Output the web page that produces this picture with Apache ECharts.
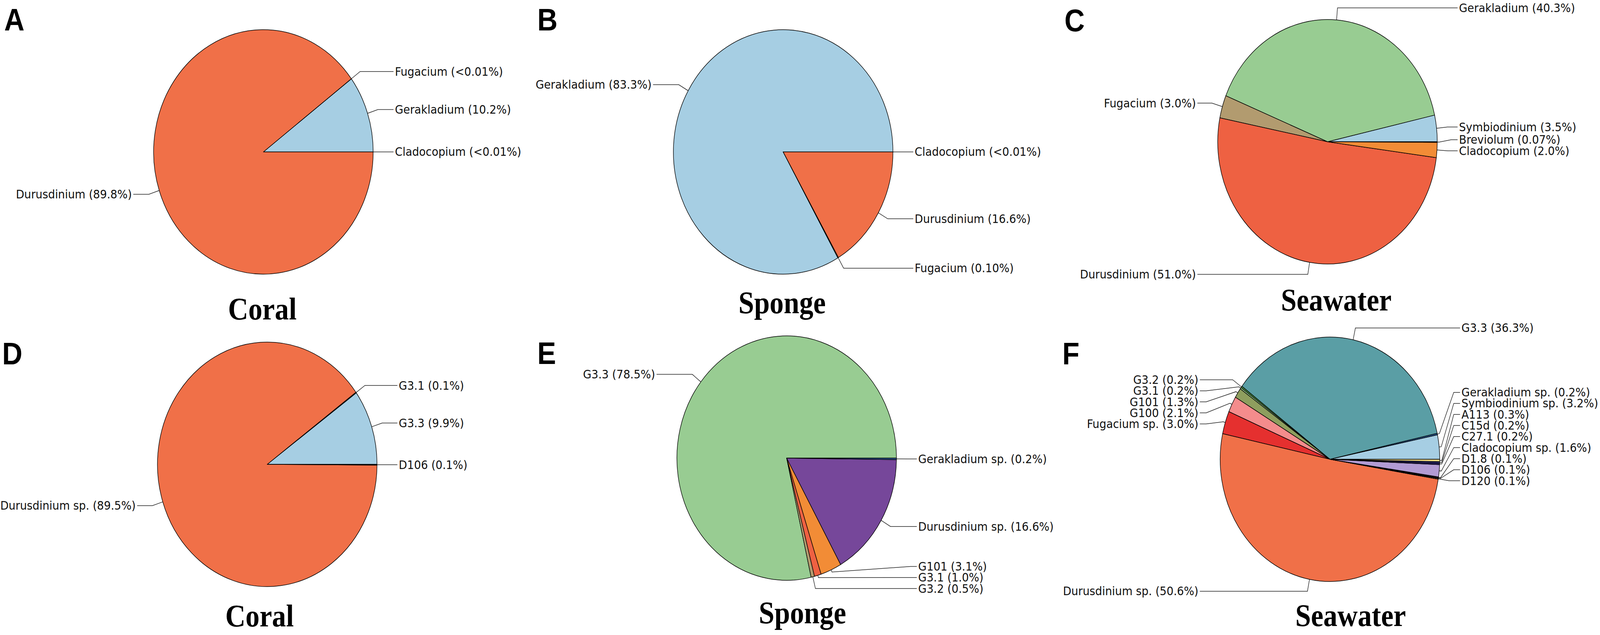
<!DOCTYPE html>
<html><head><meta charset="utf-8">
<script src="https://cdn.jsdelivr.net/npm/echarts@6/dist/echarts.min.js"></script>
<style>html,body{margin:0;padding:0;background:#fff;overflow:hidden}#c{width:4562px;height:1626px}</style>
</head><body><div id="c"></div>
<script>
// ================= DATA =================
// A: Coral (genus)
const coralGenusNames = ['Cladocopium', 'Gerakladium', 'Fugacium', 'Durusdinium'];
const coralGenusValues = [0.005, 10.2, 0.005, 89.8];
const coralGenusPct = ['<0.01%', '10.2%', '<0.01%', '89.8%'];
// B: Sponge (genus)
const spongeGenusNames = ['Cladocopium', 'Gerakladium', 'Fugacium', 'Durusdinium'];
const spongeGenusValues = [0.005, 83.3, 0.10, 16.6];
const spongeGenusPct = ['<0.01%', '83.3%', '0.10%', '16.6%'];
// C: Seawater (genus)
const seawaterGenusNames = ['Symbiodinium', 'Gerakladium', 'Fugacium', 'Durusdinium', 'Cladocopium', 'Breviolum'];
const seawaterGenusValues = [3.5, 40.3, 3.0, 51.0, 2.0, 0.07];
const seawaterGenusPct = ['3.5%', '40.3%', '3.0%', '51.0%', '2.0%', '0.07%'];
// D: Coral (type)
const coralTypeNames = ['G3.3', 'G3.1', 'Durusdinium sp.', 'D106'];
const coralTypeValues = [9.9, 0.1, 89.5, 0.1];
const coralTypePct = ['9.9%', '0.1%', '89.5%', '0.1%'];
// E: Sponge (type)
const spongeTypeNames = ['G3.3', 'G3.2', 'G3.1', 'G101', 'Durusdinium sp.', 'Gerakladium sp.'];
const spongeTypeValues = [78.5, 0.5, 1.0, 3.1, 16.6, 0.2];
const spongeTypePct = ['78.5%', '0.5%', '1.0%', '3.1%', '16.6%', '0.2%'];
// F: Seawater (type)
const seawaterTypeNames = ['Symbiodinium sp.', 'Gerakladium sp.', 'G3.3', 'G3.2', 'G3.1', 'G101', 'G100', 'Fugacium sp.',
  'Durusdinium sp.', 'D120', 'D106', 'D1.8', 'Cladocopium sp.', 'C27.1', 'C15d', 'A113'];
const seawaterTypeValues = [3.2, 0.2, 36.3, 0.2, 0.2, 1.3, 2.1, 3.0, 50.6, 0.1, 0.1, 0.1, 1.6, 0.2, 0.2, 0.3];
const seawaterTypePct = ['3.2%', '0.2%', '36.3%', '0.2%', '0.2%', '1.3%', '2.1%', '3.0%', '50.6%', '0.1%', '0.1%', '0.1%', '1.6%', '0.2%', '0.2%', '0.3%'];

const panelLetters = ['A', 'B', 'C', 'D', 'E', 'F'];
const panelTitles = ['Coral', 'Sponge', 'Seawater', 'Coral', 'Sponge', 'Seawater'];

// ================= STYLE / LAYOUT =================
const FIG_W = 4562, FIG_H = 1626;
// the window may be narrower than the figure: fit the whole figure into it
(function fit() {
  const sx = Math.min(1, window.innerWidth / FIG_W), sy = Math.min(1, window.innerHeight / FIG_H);
  if (sx < 1 || sy < 1) {
    const el = document.getElementById('c');
    el.style.transformOrigin = '0 0';
    el.style.transform = 'scale(' + sx + ',' + sy + ')';
  }
})();

const C_ORANGE_RED = '#F07048', C_LBLUE = '#A6CEE3', C_GREEN = '#98CC92', C_TAN = '#B29B6F',
      C_RED2 = '#EE6142', C_ORANGE = '#F28C36', C_PURPLE = '#76479A';
const panels = [
  { names: coralGenusNames, values: coralGenusValues, pct: coralGenusPct,
    colors: [C_ORANGE, C_LBLUE, C_TAN, C_ORANGE_RED], center: [751, 389], letterPos: [12, 50], titlePos: [748, 791] },
  { names: spongeGenusNames, values: spongeGenusValues, pct: spongeGenusPct,
    colors: [C_ORANGE, C_LBLUE, C_TAN, C_ORANGE_RED], center: [2233, 389], letterPos: [1532, 50], titlePos: [2230, 775] },
  { names: seawaterGenusNames, values: seawaterGenusValues, pct: seawaterGenusPct,
    colors: [C_LBLUE, C_GREEN, C_TAN, C_RED2, C_ORANGE, '#6A3D9A'], center: [3785, 363], letterPos: [3035, 52], titlePos: [3810, 768] },
  { names: coralTypeNames, values: coralTypeValues, pct: coralTypePct,
    colors: [C_LBLUE, '#4E9A48', C_ORANGE_RED, '#333333'], center: [762, 1189], letterPos: [6, 905], titlePos: [740, 1577] },
  { names: spongeTypeNames, values: spongeTypeValues, pct: spongeTypePct,
    colors: [C_GREEN, C_TAN, C_RED2, C_ORANGE, C_PURPLE, '#2B5FA0'], center: [2243, 1173], letterPos: [1532, 904], titlePos: [2288, 1569] },
  { names: seawaterTypeNames, values: seawaterTypeValues, pct: seawaterTypePct,
    colors: [C_LBLUE, '#2B5FA0', '#5A9EA5', '#4E9A48', C_GREEN, '#8E9E5E', '#F48C8C', '#E5302F',
             C_ORANGE_RED, '#F0A050', C_TAN, '#6A3D9A', '#B29BD3', '#2B1F6E', '#3A3A8A', '#F3DC84'],
    center: [3792, 1176], letterPos: [3029, 905], titlePos: [3851, 1576] }
];
const R = 313, LEN = 31, TEXT_OFF = 375, LINE_OFF = 371, GAP = 28.3, TICK = 6, CORNER = 18;

const chart = echarts.init(document.getElementById('c'), null, { renderer: 'svg', width: FIG_W, height: FIG_H });
const nat = panels.map(() => []);

function recorder(si) {
  return function (p) {
    if (p.labelLinePoints) nat[si][p.dataIndex] = p.labelLinePoints.map(q => [q[0], q[1]]);
    return {};
  };
}

function buildSeries(layoutFn) {
  return panels.map((pn, si) => ({
    type: 'pie',
    center: pn.center,
    radius: R,
    startAngle: 0,
    clockwise: false,
    avoidLabelOverlap: false,
    animation: false,
    silent: true,
    emphasis: { disabled: true },
    itemStyle: { borderColor: '#000', borderWidth: 1.5 },
    label: {
      show: true, position: 'outside',
      fontFamily: 'DejaVu Sans', fontSize: 31, color: '#111', lineHeight: 28,
      formatter: p => pn.names[p.dataIndex] + ' (' + pn.pct[p.dataIndex] + ')'
    },
    labelLine: { show: true, length: LEN, length2: 12, lineStyle: { color: '#222', width: 1.5 } },
    labelLayout: layoutFn(si),
    data: pn.names.map((n, i) => ({ name: n, value: pn.values[i], itemStyle: { color: pn.colors[i] } }))
  }));
}

const graphics = [];
panels.forEach((pn, si) => {
  graphics.push({ type: 'text', x: pn.letterPos[0], y: pn.letterPos[1], silent: true,
    style: { text: panelLetters[si], font: 'bold 80px "Liberation Sans", Arial, sans-serif', fill: '#000',
      align: 'left', textAlign: 'left', verticalAlign: 'middle', textVerticalAlign: 'middle' } });
  graphics.push({ type: 'text', x: pn.titlePos[0], y: pn.titlePos[1], silent: true,
    style: { text: panelTitles[si], font: 'bold 80px "Liberation Serif", "Times New Roman", serif', fill: '#000',
      align: 'center', textAlign: 'center', verticalAlign: 'middle', textVerticalAlign: 'middle' } });
});

chart.setOption({ backgroundColor: '#fff', animation: false, graphic: graphics, series: buildSeries(recorder) });

// spread crowded labels, starting from the library-computed label line points
const adjusted = panels.map((pn, si) => {
  const cx = pn.center[0];
  const items = pn.names.map((n, i) => {
    const pts = nat[si][i];
    const right = pts[2][0] >= pts[1][0];
    return { i, p0: pts[0], p1: pts[1], right, y0: pts[1][1], y: pts[1][1] };
  });
  let prev = Infinity;
  items.filter(o => o.right).sort((a, b) => b.y0 - a.y0).forEach(o => { o.y = Math.min(o.y0, prev - GAP); prev = o.y; });
  prev = -Infinity;
  items.filter(o => !o.right).sort((a, b) => a.y0 - b.y0).forEach(o => { o.y = Math.max(o.y0, prev + GAP); prev = o.y; });
  return items.map(o => {
    const sgn = o.right ? 1 : -1;
    const xEnd = cx + sgn * LINE_OFF;
    let pts;
    if (Math.abs(o.y - o.y0) < 1) {
      pts = [o.p0, [o.p1[0], o.y0], [xEnd, o.y0]];
    } else {
      const dx = o.p1[0] - o.p0[0], dy = o.p1[1] - o.p0[1], L = Math.hypot(dx, dy) || 1;
      pts = [o.p0, [o.p0[0] + dx / L * TICK, o.p0[1] + dy / L * TICK], [xEnd - sgn * CORNER, o.y], [xEnd, o.y]];
    }
    return { x: cx + sgn * TEXT_OFF, y: o.y, align: o.right ? 'left' : 'right', verticalAlign: 'middle', labelLinePoints: pts };
  });
});

function applier(si) {
  return function (p) { return adjusted[si][p.dataIndex]; };
}
chart.setOption({ series: buildSeries(applier) });
</script></body></html>
